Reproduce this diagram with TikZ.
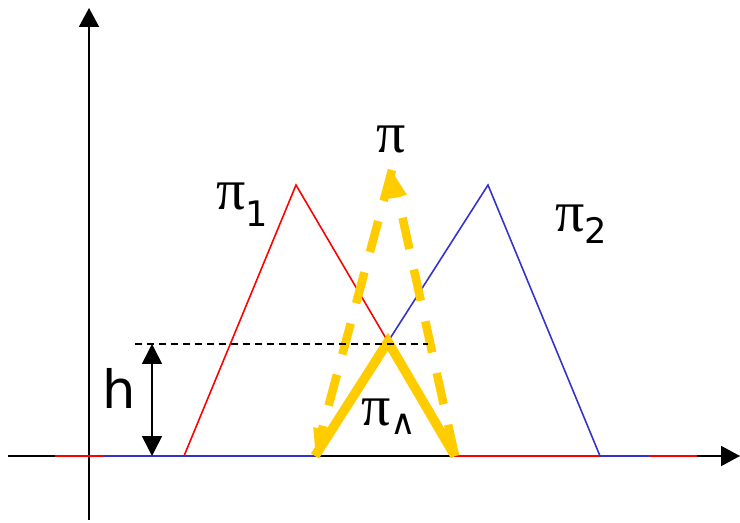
\documentclass[tikz,border=0pt]{standalone}
\usepackage{fontspec}
\setmainfont{DejaVu Sans}
\newfontfamily\pisym{Liberation Serif}
\usetikzlibrary{arrows.meta}
\definecolor{memred}{RGB}{255,0,0}
\definecolor{memblue}{RGB}{51,51,204}
\definecolor{memgold}{RGB}{255,204,0}
\newcommand{\pibig}{{\pisym\fontsize{33}{33}\selectfont π}}
\newcommand{\subtxt}[2]{\raisebox{#1}{\fontsize{20}{20}\selectfont #2}}

\begin{document}
\begin{tikzpicture}[x=0.02cm, y=-0.02cm,
    axis/.style={line width=1.1pt, -{Triangle[length=0.38cm, width=0.4cm]}},
    redmf/.style={draw=memred, line width=0.9pt, line join=miter},
    bluemf/.style={draw=memblue, line width=0.9pt, line join=miter},
    minmf/.style={draw=memgold, line width=0.19cm, line join=miter},
    prodmf/.style={draw=memgold, line width=0.17cm, dash pattern=on 0.64cm off 0.42cm, -{Triangle[length=0.55cm, width=0.32cm]}},
    level/.style={line width=0.7pt, dash pattern=on 0.14cm off 0.1cm},
    hgt/.style={line width=0.9pt, {Triangle[length=0.4cm, width=0.4cm]}-{Triangle[length=0.4cm, width=0.4cm]}},
    lbl/.style={inner sep=0pt, anchor=base west}
]
\useasboundingbox (0,0) rectangle (740,523);
% axes
\coordinate (xstart) at (8,456);
\coordinate (xend) at (740,456);
\coordinate (ystart) at (89,520);
\coordinate (yend) at (89,8);
\draw[axis] (xstart) -- (xend);
\draw[axis] (ystart) -- (yend);
% pi_1
\coordinate (r0) at (55,456);
\coordinate (r1) at (184,456);
\coordinate (r2) at (296,185);
\coordinate (r3) at (455,456);
\coordinate (r4) at (697,456);
\draw[redmf] (r0) -- (r1) -- (r2) -- (r3) -- (r4);
% pi_2
\coordinate (b0) at (103,456);
\coordinate (b1) at (315,456);
\coordinate (b2) at (488,185);
\coordinate (b3) at (600,456);
\coordinate (b4) at (649,456);
\draw[bluemf] (b0) -- (b1) -- (b2) -- (b3) -- (b4);
% min and product
\coordinate (cut) at (intersection of r2--r3 and b1--b2);
\coordinate (top) at (392,170);
\draw[prodmf] (r3) -- (top);
\draw[prodmf] (top) -- (b1);
\draw[minmf] (b1) -- (cut) -- (r3);
% height
\coordinate (lvlL) at (135,344);
\coordinate (lvlR) at (428,344);
\draw[level] (lvlL) -- (lvlR);
\coordinate (htop) at (152,344);
\coordinate (hbot) at (152,456);
\draw[hgt] (htop) -- (hbot);
% labels
\node[lbl] (hlab) at (102,408) {\fontsize{30}{30}\selectfont h};
\node[lbl] (pione) at (216,210) {\pibig\subtxt{-0.34cm}{1}};
\node[lbl] (pitwo) at (555,232) {\pibig\subtxt{-0.24cm}{2}};
\node[lbl] (piprod) at (376,153) {\pibig};
\node[lbl] (pimin) at (361,425) {\pibig\subtxt{-0.2cm}{∧}};
\end{tikzpicture}
\end{document}
